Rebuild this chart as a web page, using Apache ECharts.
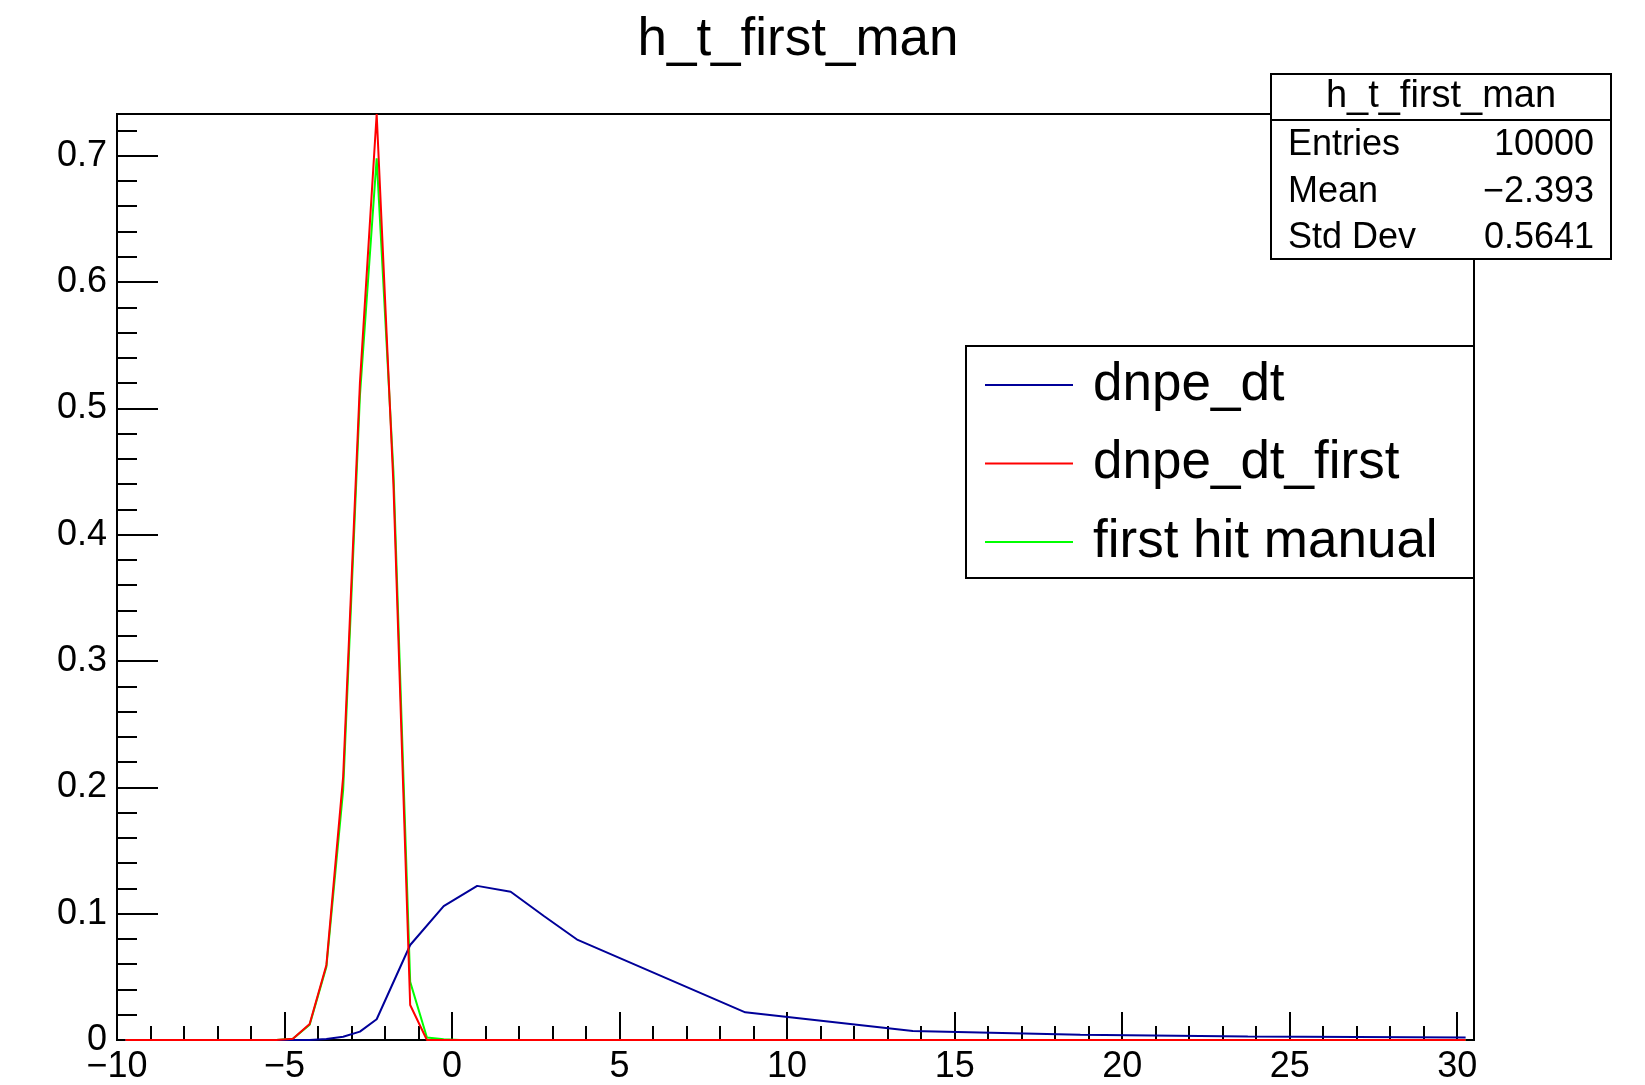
<!DOCTYPE html>
<html>
<head>
<meta charset="utf-8">
<script src="https://cdn.jsdelivr.net/npm/echarts@6/dist/echarts.min.js"></script>
<style>
html,body{margin:0;padding:0;background:#fff;}
#c{width:1645px;height:1085px;}
</style>
</head>
<body>
<div id="c"></div>
<script>
// ---- data ----
var histX      = [-9.75, -5.25, -4.75, -4.25, -3.75, -3.25, -2.75, -2.25, -1.75, -1.25, -0.75, -0.25, 0.25, 30.25];
var firstVals  = [0, 0, 0.001, 0.0127, 0.0594, 0.2085, 0.52, 0.733, 0.44, 0.0277, 0, 0, 0, 0];        // dnpe_dt_first
var manualVals = [0, 0, 0.001, 0.012, 0.058, 0.198, 0.51, 0.698, 0.45, 0.046, 0.002, 0.0005, 0, 0];   // first hit manual
var dtX        = [-9.75, -4.25, -3.75, -3.25, -2.75, -2.25, -1.25, -0.25, 0.75, 1.75, 2.75, 3.75, 8.75, 13.75, 18.75, 23.75, 30.25];
var dtVals     = [0, 0, 0.0008, 0.0026, 0.0066, 0.0164, 0.0752, 0.106, 0.122, 0.1174, 0.098, 0.0792, 0.0219, 0.0071, 0.0042, 0.0028, 0.0019]; // dnpe_dt
var seriesNames = ['dnpe_dt', 'dnpe_dt_first', 'first hit manual'];
var statsLabels = ['Entries', 'Mean', 'Std Dev'];
var statsValues = ['10000', '\u22122.393', '0.5641'];
var titleText = 'h_t_first_man';

function pairs(xs, ys){ return xs.map(function(x,i){ return [x, ys[i]]; }); }

var FONT = '"Liberation Sans", Arial, Helvetica, sans-serif';
var chart = echarts.init(document.getElementById('c'), null, {renderer:'canvas'});

var GL = 117, GT = 114, GR = 1474, GB = 1040;

var graphics = [
  // legend box
  {type:'rect', z:3, shape:{x:966, y:346, width:GR-966, height:578-346},
   style:{fill:'#fff', stroke:'#000', lineWidth:2}},
  // stats box
  {type:'rect', z:10, shape:{x:1271, y:74, width:1611-1271, height:259-74},
   style:{fill:'#fff', stroke:'#000', lineWidth:2}},
  {type:'line', z:11, shape:{x1:1271, y1:120, x2:1611, y2:120}, style:{stroke:'#000', lineWidth:2}},
  {type:'text', z:11, style:{x:1441, y:97, text:titleText, fill:'#000', font:'38px ' + FONT,
    textAlign:'center', textVerticalAlign:'middle'}}
];
var rowY = [145, 192, 238];
statsLabels.forEach(function(l, i){
  graphics.push({type:'text', z:11, style:{x:1288, y:rowY[i], text:l, fill:'#000', font:'36px ' + FONT,
    textAlign:'left', textVerticalAlign:'middle'}});
  graphics.push({type:'text', z:11, style:{x:1594, y:rowY[i], text:statsValues[i], fill:'#000', font:'36px ' + FONT,
    textAlign:'right', textVerticalAlign:'middle'}});
});

var option = {
  backgroundColor:'#fff',
  animation:false,
  title:{
    text:titleText, left:798, top:14, textAlign:'center', padding:0,
    textStyle:{fontSize:53, fontWeight:'normal', color:'#000', fontFamily:FONT}
  },
  grid:{left:GL, top:GT, width:GR-GL, height:GB-GT, show:true, borderColor:'#000', borderWidth:2,
        backgroundColor:'transparent', containLabel:false},
  legend:{
    orient:'vertical', left:985, top:357, padding:0, itemGap:22.5,
    itemWidth:88, itemHeight:2, icon:'rect', z:5,
    data:seriesNames,
    textStyle:{fontSize:53, lineHeight:56, color:'#000', fontFamily:FONT, padding:[0,0,0,15]}
  },
  xAxis:[
    {type:'value', min:-10, max:30.5, interval:5, position:'bottom',
     axisLine:{show:true, onZero:false, lineStyle:{color:'#000', width:2}},
     axisTick:{show:true, inside:true, length:28, lineStyle:{color:'#000', width:2}},
     axisLabel:{show:true, margin:9, fontSize:36, color:'#000', fontFamily:FONT, showMaxLabel:false,
       formatter:function(v){ return String(v).replace('-', '\u2212'); }},
     splitLine:{show:false}},
    {type:'value', min:-10, max:30.5, interval:1, position:'bottom', gridIndex:0,
     axisLine:{show:false, onZero:false},
     axisTick:{show:true, inside:true, length:14, lineStyle:{color:'#000', width:2}},
     axisLabel:{show:false}, splitLine:{show:false}}
  ],
  yAxis:[
    {type:'value', min:0, max:0.733, interval:0.1, position:'left',
     axisLine:{show:true, onZero:false, lineStyle:{color:'#000', width:2}},
     axisTick:{show:true, inside:true, length:41, lineStyle:{color:'#000', width:2}},
     axisLabel:{show:true, margin:10, fontSize:36, color:'#000', fontFamily:FONT, showMaxLabel:false},
     splitLine:{show:false}},
    {type:'value', min:0, max:0.733, interval:0.02, position:'left', gridIndex:0,
     axisLine:{show:false, onZero:false},
     axisTick:{show:true, inside:true, length:20, lineStyle:{color:'#000', width:2}},
     axisLabel:{show:false}, splitLine:{show:false}}
  ],
  series:[
    {name:'first hit manual', type:'line', data:pairs(histX, manualVals), symbol:'none', clip:false,
     lineStyle:{color:'#00ff00', width:2}, itemStyle:{color:'#00ff00'}, z:3},
    {name:'dnpe_dt', type:'line', data:pairs(dtX, dtVals), symbol:'none', clip:false,
     lineStyle:{color:'#000099', width:2}, itemStyle:{color:'#000099'}, z:4},
    {name:'dnpe_dt_first', type:'line', data:pairs(histX, firstVals), symbol:'none', clip:false,
     lineStyle:{color:'#ff0000', width:2}, itemStyle:{color:'#ff0000'}, z:5}
  ],
  graphic:graphics
};
chart.setOption(option);
</script>
</body>
</html>
